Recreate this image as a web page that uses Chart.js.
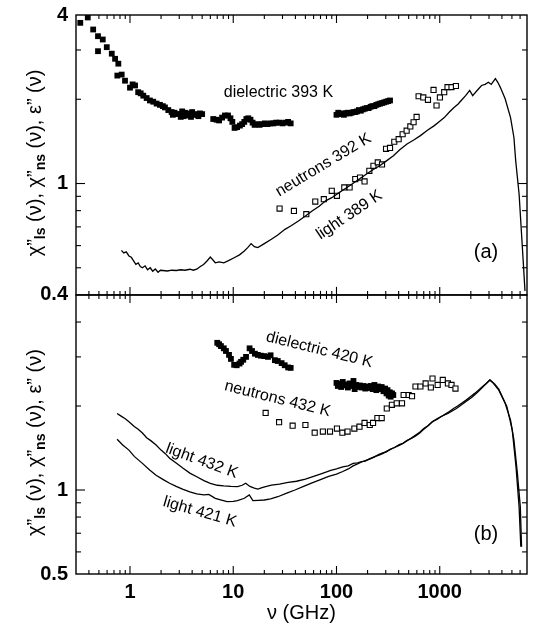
<!DOCTYPE html>
<html><head><meta charset="utf-8">
<script src="https://cdn.jsdelivr.net/npm/chart.js@4.4.0/dist/chart.umd.min.js"></script>
<style>
html,body{margin:0;padding:0;background:#fff;}
#wrap{position:relative;width:534px;height:628px;overflow:hidden;}
canvas{position:absolute;left:0;}
</style></head><body>
<div id="wrap">
<canvas id="cTop" width="534" height="300" style="top:0"></canvas>
<canvas id="cBot" width="534" height="343" style="top:285px"></canvas>
</div>
<script>
// ---------- DATA (panel a) ----------
const dielTopNu  = [0.33,0.39,0.44,0.49,0.49,0.545,0.596,0.666,0.717,0.771,0.754,0.831,0.895,1.0,1.06,1.12,1.2,1.27,1.345,1.45,1.56,1.68,1.81,1.95,2.08,2.18,2.35,2.53,2.6,2.7,2.85,3.04,3.1,3.2,3.3,3.4,3.53,3.7,3.9,4.0,4.1,4.25,4.5,4.6,4.75,5.0,
  6.4,6.9,7.3,7.8,8.3,8.9,9.4,9.8,10.3,10.9,11.6,12.2,12.8,13.4,14.0,14.7,15.4,16.1,17.0,18.0,19.0,20.2,21.5,23,24.5,26,28,30,32,34,36,
  100,104,108,113,118,123,128,134,140,146,152,158,165,172,180,188,196,205,214,223,233,243,254,265,277,290,303,316,330];
const dielTopVal = [3.75,3.92,3.55,3.36,2.97,3.27,3.07,2.91,2.79,2.68,2.43,2.45,2.33,2.20,2.26,2.24,2.12,2.10,2.06,2.02,1.98,1.96,1.93,1.91,1.89,1.87,1.83,1.80,1.76,1.79,1.77,1.77,1.73,1.81,1.74,1.79,1.75,1.78,1.73,1.80,1.76,1.77,1.76,1.74,1.78,1.77,
  1.70,1.69,1.68,1.72,1.75,1.75,1.71,1.66,1.58,1.59,1.61,1.63,1.66,1.70,1.71,1.69,1.65,1.62,1.63,1.62,1.63,1.64,1.63,1.64,1.64,1.65,1.65,1.64,1.65,1.66,1.64,
  1.76,1.79,1.77,1.78,1.76,1.78,1.79,1.78,1.79,1.80,1.80,1.81,1.83,1.82,1.84,1.85,1.86,1.86,1.88,1.89,1.89,1.91,1.92,1.93,1.94,1.95,1.96,1.97,1.98];

const neutTopNu  = [28.1,38.7,51,62.3,75.4,90,101,119,134,152,169,187,208,228,251,276,302,330,363,400,437,478,519,558,597,624,693,769,871,931,1004,1105,1189,1300,1435];
const neutTopVal = [0.814,0.798,0.777,0.862,0.879,0.942,0.904,0.968,0.968,1.037,1.05,1.017,1.11,1.157,1.19,1.17,1.33,1.34,1.41,1.44,1.50,1.545,1.60,1.655,1.73,2.05,2.03,1.99,2.16,1.90,2.03,2.12,2.21,2.21,2.23];

const lightTopNu  = [0.826,0.87,0.92,0.977,1.03,1.08,1.14,1.2,1.26,1.32,1.4,1.48,1.57,1.66,1.76,1.87,1.97,2.08,2.3,2.55,2.81,3.1,3.4,3.81,4.1,4.43,4.8,5.16,5.6,6.0,6.3,6.7,7.3,8.1,9.0,10.2,11.5,12.8,13.8,14.9,16,17.3,20,23.4,27,31.7,36,42.8,50,58,68,78.5,90,106,122,144,165,194,225,262,300,356,410,482,560,650,760,886,1000,1107,1240,1375,1500,1615,1780,1950,2085,2300,2540,2750,2960,3150,3460,3650,3850,4300,4850,5230,5440,5870,6200,6490,6690];
const lightTopVal = [0.577,0.565,0.57,0.551,0.545,0.53,0.514,0.52,0.505,0.50,0.508,0.492,0.50,0.486,0.495,0.482,0.49,0.489,0.487,0.49,0.489,0.492,0.49,0.494,0.49,0.494,0.505,0.514,0.53,0.546,0.535,0.521,0.525,0.521,0.53,0.543,0.556,0.574,0.59,0.61,0.595,0.59,0.61,0.632,0.655,0.686,0.705,0.735,0.765,0.798,0.83,0.867,0.89,0.928,0.96,1.0,1.035,1.08,1.12,1.157,1.2,1.257,1.32,1.384,1.43,1.483,1.55,1.61,1.67,1.72,1.80,1.87,1.92,1.98,2.06,2.15,2.06,2.15,2.24,2.26,2.30,2.26,2.37,2.30,2.21,2.007,1.72,1.46,1.206,0.916,0.659,0.50,0.413];

// ---------- DATA (panel b) ----------
const dielBotNu  = [7.0,7.3,7.6,8.1,8.5,9.1,9.5,10.2,10.8,11.5,11.9,12.5,13.3,
  14.4,15.2,16.2,17.3,18.5,20,21.7,23,25.3,27,29.4,31.5,34,36,
  100,103,107,111,115,119,124,129,134,140,146,150,155,161,168,175,182,190,198,206,215,224,233,243,253,263,274,285,296,305,312,320,328,335,345,355];
const dielBotVal = [3.37,3.33,3.28,3.22,3.15,3.05,2.95,2.81,2.80,2.84,2.88,2.93,3.0,
  3.22,3.15,3.08,3.05,3.03,3.02,3.0,3.04,2.92,2.90,2.85,2.80,2.75,2.74,
  2.42,2.36,2.40,2.34,2.44,2.37,2.39,2.33,2.41,2.36,2.46,2.30,2.38,2.34,2.37,2.33,2.36,2.31,2.35,2.32,2.36,2.30,2.38,2.28,2.35,2.30,2.34,2.26,2.31,2.22,2.28,2.18,2.24,2.16,2.22,2.19,2.24];

const neutBotNu  = [20.6,27.8,37.6,50,61.5,73.8,86.5,101,114,128,149,167,187,210,226,249,274,307,344,383,431,447,500,539,582,650,730,820,851,955,1070,1200,1300,1420];
const neutBotVal = [1.89,1.75,1.70,1.71,1.605,1.62,1.62,1.66,1.605,1.62,1.66,1.686,1.74,1.71,1.74,1.81,1.81,1.96,2.02,2.045,2.045,2.19,2.19,2.17,2.35,2.35,2.41,2.33,2.51,2.38,2.48,2.41,2.38,2.31];

const light432Nu  = [0.75,0.82,0.9,0.977,1.1,1.2,1.32,1.45,1.6,1.79,2.0,2.2,2.42,2.8,3.27,3.8,4.43,5.2,6.0,7.0,8.1,9.5,11,12.2,13.2,14.5,16,17.3,19,21,23.4,28,34,41,50,60,72,88,100,115,130,145,160,175,190,210,230,255,280,305,330,365,405,440,480,530,580,640,700,770,850,940,1030,1130,1240,1360,1490,1640,1800,1980,2180,2400,2600,2820,3060,3250,3400,3730,4300,4850,5230,5650,6030,6200];
const light432Val = [1.88,1.84,1.80,1.757,1.69,1.65,1.60,1.54,1.50,1.45,1.39,1.35,1.30,1.25,1.196,1.15,1.116,1.08,1.057,1.04,1.034,1.03,1.028,1.04,1.057,1.03,1.015,1.008,1.02,1.03,1.042,1.05,1.065,1.075,1.095,1.12,1.145,1.175,1.19,1.21,1.22,1.245,1.25,1.265,1.27,1.295,1.31,1.34,1.36,1.37,1.40,1.42,1.445,1.47,1.50,1.535,1.57,1.61,1.66,1.70,1.76,1.79,1.83,1.87,1.91,1.96,2.0,2.05,2.10,2.16,2.22,2.29,2.35,2.41,2.48,2.43,2.38,2.28,2.045,1.78,1.51,1.147,0.87,0.626];

const light421Nu  = [0.75,0.85,0.977,1.1,1.32,1.55,1.79,2.1,2.42,2.8,3.27,3.8,4.43,5.2,5.8,6.7,7.7,8.7,10,11,12.8,14.3,15.5,17.5,20,23,27,33,39.6,48,58,70,84,100,115,130,145,160,175,190,210,230,255,280,305,330,365,405,440,480,530,580,640,700,770,850,940,1030,1200,1450,1743,2050,2350,2700,3060,3400,3730,4470,5040,5480,5870,6100];
const light421Val = [1.52,1.45,1.39,1.32,1.246,1.18,1.13,1.09,1.057,1.03,1.006,0.985,0.968,0.96,0.965,0.934,0.92,0.908,0.91,0.916,0.934,0.96,0.916,0.918,0.921,0.93,0.946,0.975,1.0,1.03,1.06,1.09,1.12,1.14,1.165,1.19,1.22,1.24,1.26,1.275,1.29,1.315,1.33,1.35,1.375,1.395,1.42,1.455,1.47,1.505,1.53,1.56,1.60,1.65,1.70,1.755,1.80,1.835,1.88,1.96,2.06,2.15,2.25,2.37,2.48,2.40,2.30,1.99,1.64,1.21,0.87,0.626];

// axis ticks / labels
const xRange = [0.3, 7000];
const xLabelTicks = [1, 10, 100, 1000];
const yRangeTop = [0.4, 4];
const yRangeBot = [0.5, 5];
const yLabelsTop = [0.4, 1, 4];
const yLabelsBot = [0.5, 1];
const yMinorTop = [0.5, 0.6, 0.7, 0.8, 0.9, 2, 3];
const yMinorBot = [0.6, 0.7, 0.8, 0.9, 2, 3, 4];

const zip = (a, b) => a.map((v, i) => ({x: v, y: b[i]}));
const FONT = "'Liberation Sans', Arial, Helvetica, sans-serif";

const decor = {
  id: 'decor',
  afterDraw(chart, args, o) {
    const {ctx, chartArea: a, scales: {x, y}} = chart;
    ctx.save();
    ctx.strokeStyle = '#000';
    ctx.fillStyle = '#000';
    ctx.lineWidth = 1.4;
    ctx.strokeRect(a.left, a.top, a.right - a.left, a.bottom - a.top);
    ctx.lineWidth = 1.1;
    const seg = (x1, y1, x2, y2) => { ctx.beginPath(); ctx.moveTo(x1, y1); ctx.lineTo(x2, y2); ctx.stroke(); };
    for (let e = -1; e <= 3; e++) for (let k = 1; k <= 9; k++) {
      const v = k * Math.pow(10, e);
      if (v <= x.min * 1.001 || v >= x.max * 0.999) continue;
      const px = x.getPixelForValue(v);
      const L = k === 1 ? 8 : 4;
      seg(px, a.top, px, a.top + L);
      seg(px, a.bottom, px, a.bottom - L);
    }
    o.yMinor.forEach(v => { const py = y.getPixelForValue(v); seg(a.left, py, a.left + 5, py); seg(a.right, py, a.right - 5, py); });
    o.yMajor.forEach(v => { const py = y.getPixelForValue(v); seg(a.left, py, a.left + 9, py); seg(a.right, py, a.right - 9, py); });
    // annotations
    ctx.textAlign = 'center';
    ctx.textBaseline = 'middle';
    o.notes.forEach(n => {
      ctx.save();
      ctx.translate(x.getPixelForValue(n.nu), y.getPixelForValue(n.v));
      ctx.rotate(n.rot * Math.PI / 180);
      ctx.font = n.size + 'px ' + FONT;
      ctx.fillText(n.t, 0, 0);
      ctx.restore();
    });
    // y axis title with subscripts
    const parts = [['χ\u201D', 0], ['ls', 1], [' (ν), χ\u201D', 0], ['ns', 1], [' (ν), ε\u201D (ν)', 0]];
    const fMain = '20px ' + FONT, fSub = 'bold 14px ' + FONT;
    let w = 0;
    parts.forEach(p => { ctx.font = p[1] ? fSub : fMain; w += ctx.measureText(p[0]).width; });
    ctx.save();
    ctx.translate(o.titleX, (a.top + a.bottom) / 2 + o.titleDy);
    ctx.rotate(-Math.PI / 2);
    ctx.textAlign = 'left';
    ctx.textBaseline = 'alphabetic';
    let cx = -w / 2;
    parts.forEach(p => {
      ctx.font = p[1] ? fSub : fMain;
      ctx.fillText(p[0], cx, p[1] ? 4 : 0);
      cx += ctx.measureText(p[0]).width;
    });
    ctx.restore();
    ctx.restore();
  }
};

function lineDs(nu, val) {
  return {data: zip(nu, val), showLine: true, borderColor: '#000', borderWidth: 1.3, pointRadius: 0, fill: false, tension: 0};
}
function filledDs(nu, val) {
  return {data: zip(nu, val), showLine: false, pointStyle: 'rect', pointRadius: 4.1, backgroundColor: '#000', borderColor: '#000', borderWidth: 0};
}
function openDs(nu, val) {
  return {data: zip(nu, val), showLine: false, pointStyle: 'rect', pointRadius: 3.6, backgroundColor: '#fff', borderColor: '#000', borderWidth: 1.1};
}

function makeChart(id, cfg) {
  const showX = cfg.showX;
  return new Chart(document.getElementById(id), {
    type: 'scatter',
    data: {datasets: cfg.datasets},
    options: {
      responsive: false,
      animation: false,
      events: [],
      layout: {padding: {top: cfg.padTop, bottom: cfg.padBottom, left: 0, right: 7}},
      plugins: {legend: {display: false}, tooltip: {enabled: false},
        decor: {yMinor: cfg.yMinor, yMajor: [1], notes: cfg.notes, titleX: 41, titleDy: cfg.titleDy}},
      scales: {
        x: {
          type: 'logarithmic', min: xRange[0], max: xRange[1], display: showX,
          grid: {display: false, drawTicks: false},
          border: {display: false},
          afterBuildTicks: s => { s.ticks = xLabelTicks.map(v => ({value: v})); },
          afterFit: s => { s.height = showX ? 54 : 0; s.paddingLeft = 0; s.paddingRight = 0; },
          ticks: {color: '#000', padding: 6, maxRotation: 0, autoSkip: false, font: {family: FONT, size: 20, weight: 'bold'}, callback: v => String(v)},
          title: {display: true, text: 'ν (GHz)', color: '#000', font: {family: FONT, size: 20}, padding: {top: 0, bottom: 3}}
        },
        y: {
          type: 'logarithmic', min: cfg.yRange[0], max: cfg.yRange[1],
          grid: {display: false, drawTicks: false},
          border: {display: false},
          afterBuildTicks: s => { s.ticks = cfg.yLabels.map(v => ({value: v})); },
          afterFit: s => { s.width = 76; s.paddingTop = 0; s.paddingBottom = 0; },
          ticks: {color: '#000', padding: 8, autoSkip: false, font: {family: FONT, size: 20, weight: 'bold'}, callback: v => String(v)}
        }
      }
    },
    plugins: [decor]
  });
}

makeChart('cTop', {
  showX: false, padTop: 15, padBottom: 5, yRange: yRangeTop, yLabels: yLabelsTop, yMinor: yMinorTop, titleDy: 8,
  datasets: [lineDs(lightTopNu, lightTopVal), filledDs(dielTopNu, dielTopVal), openDs(neutTopNu, neutTopVal)],
  notes: [
    {t: 'dielectric 393 K', nu: 27.4, v: 2.12, rot: 0, size: 16},
    {t: 'neutrons 392 K', nu: 74.7, v: 1.164, rot: -31, size: 16},
    {t: 'light 389 K', nu: 133, v: 0.772, rot: -34, size: 16},
    {t: '(a)', nu: 2806, v: 0.565, rot: 0, size: 20}
  ]
});

makeChart('cBot', {
  showX: true, padTop: 10, padBottom: 0, yRange: yRangeBot, yLabels: yLabelsBot, yMinor: yMinorBot, titleDy: 8,
  datasets: [lineDs(light432Nu, light432Val), lineDs(light421Nu, light421Val), filledDs(dielBotNu, dielBotVal), openDs(neutBotNu, neutBotVal)],
  notes: [
    {t: 'dielectric 420 K', nu: 68.3, v: 3.18, rot: 14, size: 16},
    {t: 'neutrons 432 K', nu: 26.8, v: 2.12, rot: 14, size: 16},
    {t: 'light 432 K', nu: 4.95, v: 1.27, rot: 20, size: 16},
    {t: 'light 421 K', nu: 4.74, v: 0.834, rot: 16, size: 16},
    {t: '(b)', nu: 2806, v: 0.695, rot: 0, size: 20}
  ]
});
</script>
</body></html>
